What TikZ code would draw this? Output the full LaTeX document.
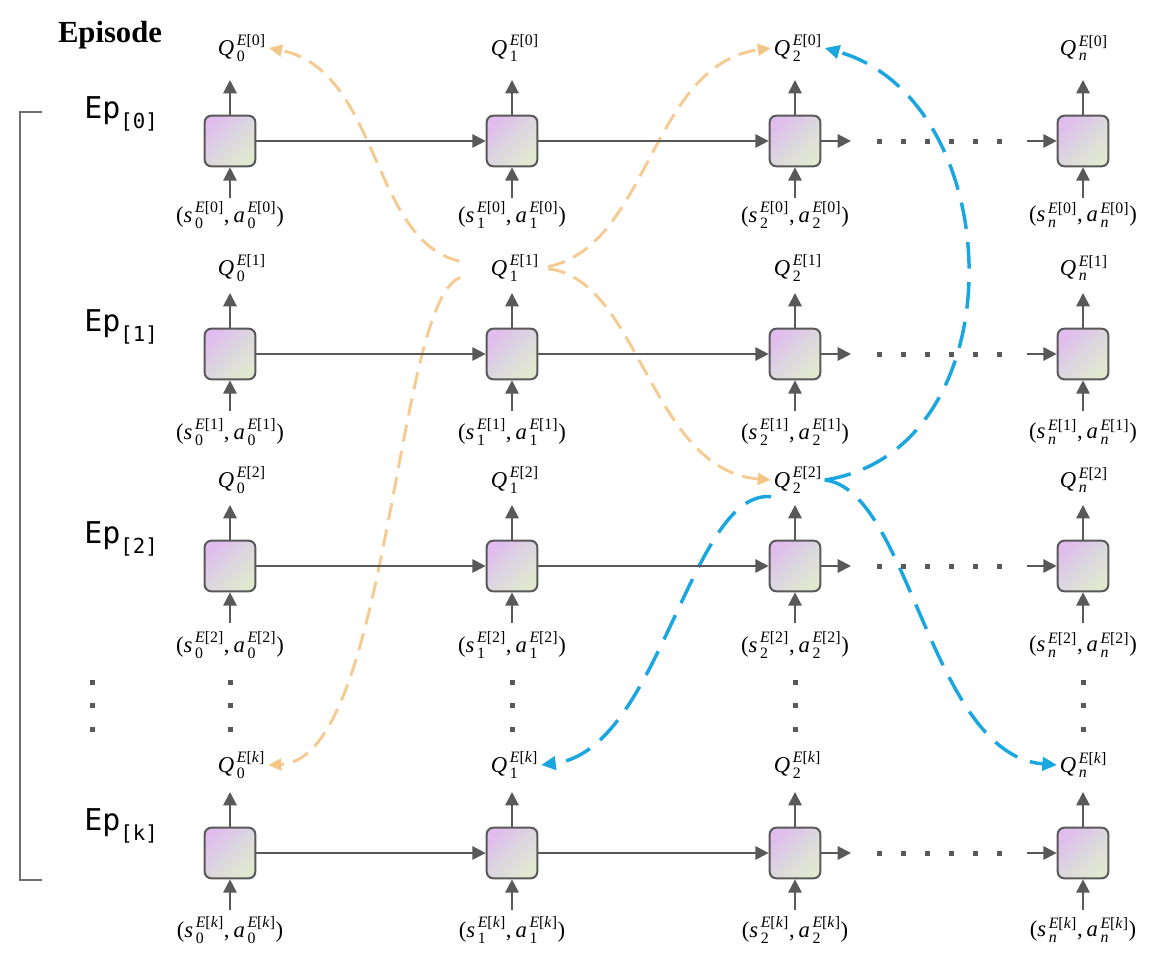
\documentclass[tikz,border=0pt]{standalone}
\usepackage{amsmath}
\usepackage{fontspec}
\setmainfont{Liberation Serif}
\newfontfamily\epfont{DejaVu Sans Mono}
\usetikzlibrary{arrows.meta,backgrounds}
\definecolor{gcol}{HTML}{595959}
\definecolor{brk}{HTML}{707070}
\definecolor{boxpink}{HTML}{E0BDEE}
\definecolor{boxmid}{HTML}{DBD7DF}
\definecolor{boxgreen}{HTML}{E2E8D0}
\definecolor{orc}{HTML}{F4C27E}
\definecolor{blc}{HTML}{1AA7DF}
\newcommand\QL[2]{$\textit{Q}_{\,\text{#1}}^{\,\textit{E}\text{[#2]}}$}
\newcommand\IL[2]{$\text{(}\textit{s}_{\,\text{#1}}^{\,\textit{E}\text{[#2]}}\text{,}\,\textit{a}_{\,\text{#1}}^{\,\textit{E}\text{[#2]}}\text{)}$}
\begin{document}
\begin{tikzpicture}[x=0.75pt,y=-0.75pt,
  cell/.style={draw=gcol, line width=1.5pt, rounded corners=5pt, minimum size=38pt, inner sep=0pt,
    top color=boxpink, bottom color=boxgreen, middle color=boxmid, shading angle=45},
  qlab/.style={inner sep=2pt, font=\fontsize{17}{19}\selectfont},
  ilab/.style={inner sep=1pt, font=\fontsize{17}{19}\selectfont},
  garrow/.style={draw=gcol, line width=1.5pt, -{Triangle[length=10pt,width=10pt]}},
  orcurve/.style={draw=orc, line width=2.2pt, dash pattern=on 13pt off 7pt, opacity=0.85,
    -{Triangle[length=10pt,width=9pt]}},
  blcurve/.style={draw=blc, line width=2.6pt, dash pattern=on 20pt off 10pt,
    -{Triangle[length=11pt,width=10pt]}},
  dotsq/.style={fill=gcol}
]
\useasboundingbox (0,0) rectangle (1155,974);

\node[font=\fontsize{23}{26}\selectfont\bfseries] (title) at (110,35) {Episode};
\draw[brk, line width=1.5pt] (42,112) -- (20,112) -- (20,880) -- (42,880);

\foreach \r/\Y/\Qy/\Iy/\lab in {0/141/48/215/0,1/354/268/432/1,2/566/480/645/2,3/853/765/930/\textit{k}}{
  \node[anchor=base west, inner sep=0pt] (ep\r) at (84,\Y-23)
    {{\epfont\fontsize{22.5}{24}\selectfont Ep}\raisebox{-8pt}{\epfont\fontsize{15.5}{17}\selectfont[\ifnum\r=3 k\else\r\fi]}};
  \foreach \c/\X/\sub/\qo in {0/230/0/15,1/512/1/24,2/795/2/24,3/1083/\textit{n}/26}{
    \node[cell] (b\r\c) at (\X,\Y) {};
    \node[qlab, anchor=west] (q\r\c) at (\X-\qo,\Qy) {\QL{\sub}{\lab}};
    \node[ilab] (i\r\c) at (\X,\Iy) {\IL{\sub}{\lab}};
    \coordinate (t\r\c) at (\X,\Y-61);
    \coordinate (s\r\c) at (\X,\Y+57);
    \draw[garrow] (b\r\c.north) -- (t\r\c);
    \draw[garrow] (s\r\c) -- (b\r\c.south);
  }
  \draw[garrow] (b\r0) -- (b\r1);
  \draw[garrow] (b\r1) -- (b\r2);
  \coordinate (e\r) at (851,\Y);
  \coordinate (f\r) at (1027,\Y);
  \draw[garrow] (b\r2) -- (e\r);
  \draw[garrow] (f\r) -- (b\r3);
  \foreach \k in {0,...,5} \fill[dotsq] (879+24*\k-2.5,\Y-2.5) rectangle ++(5,5);
}

\foreach \x in {92,230,512,795,1083}
  \foreach \y in {682,705,729}
    \fill[dotsq] (\x-2.5,\y-2.5) rectangle ++(5,5);

\begin{pgfonlayer}{background}
\fill[white] (0,0) rectangle (1155,974);
\draw[blcurve] (q22.east) .. controls (1020,450) and (1010,100) .. (q02.east);
\draw[blcurve] (q22.south west) .. controls (690,490) and (660,750) .. (q31.east);
\draw[blcurve] (q22.east) .. controls (910,490) and (930,755) .. (q33.west);
\draw[orcurve, shorten <=22pt] (q11.west) .. controls (370,240) and (380,70) .. (q00.east);
\draw[orcurve, shorten <=22pt] (q11.west) .. controls (395,300) and (390,760) .. (q30.east);
\draw[orcurve, shorten <=5pt] (q11.east) .. controls (650,245) and (650,65) .. (q02.west);
\draw[orcurve, shorten <=5pt] (q11.east) .. controls (640,280) and (650,470) .. (q22.west);
\end{pgfonlayer}
\end{tikzpicture}
\end{document}
